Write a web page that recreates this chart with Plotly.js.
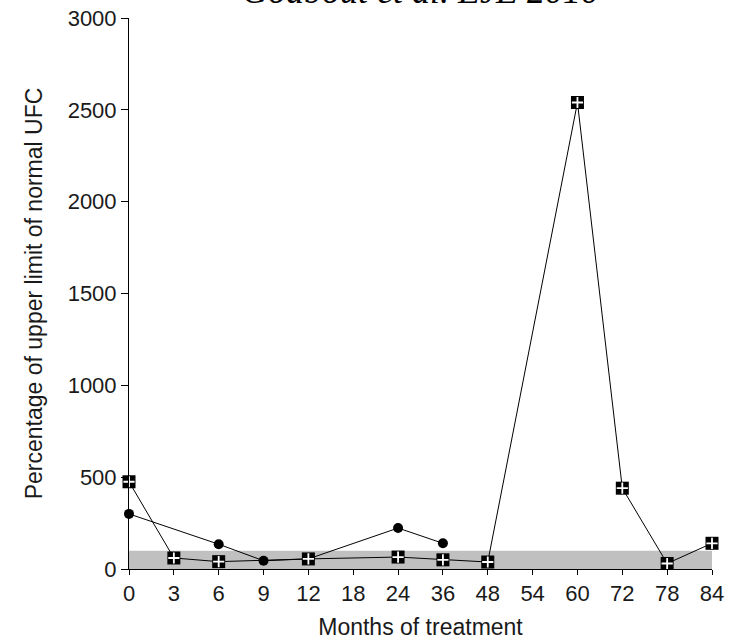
<!DOCTYPE html>
<html>
<head>
<meta charset="utf-8">
<script src="https://cdn.plot.ly/plotly-3.0.1.min.js"></script>
<style>html,body{margin:0;padding:0;background:#fff;}#chart{width:740px;height:641px;}</style>
</head>
<body>
<div id="chart"></div>
<script>
// Month labels (equally spaced categories on the x axis)
const months = ["0","3","6","9","12","18","24","36","48","54","60","72","78","84"];
// Patient A (squares with plus), % of ULN UFC; null = no measurement
const seriesSquare = [475, 60, 40, null, 55, null, 65, 50, 38, null, 2540, 440, 30, 140];
// Patient B (filled circles)
const seriesCircle = [300, null, 135, 45, 55, null, 223, 140, null, null, null, null, null, null];
// Normal range band (0 - 100 % ULN)
const normalBand = [0, 100];
const yTicks = [0, 500, 1000, 1500, 2000, 2500, 3000];

const xIdx = months.map((m, i) => i);
const txt = '#1a1a1a';
const tickFont = {family: 'Liberation Sans, Arial, sans-serif', size: 22, color: txt};
const titleFont = {family: 'Liberation Sans, Arial, sans-serif', size: 23, color: txt};

const traces = [
  {x: xIdx, y: seriesCircle, type: 'scatter', mode: 'lines+markers', connectgaps: true,
   line: {color: '#000', width: 1}, marker: {symbol: 'circle', size: 10, color: '#000'},
   cliponaxis: false, hoverinfo: 'skip'},
  {x: xIdx, y: seriesSquare, type: 'scatter', mode: 'lines+markers', connectgaps: true,
   line: {color: '#000', width: 1}, marker: {symbol: 'square', size: 13, color: '#000'},
   cliponaxis: false, hoverinfo: 'skip'},
  {x: xIdx, y: seriesSquare, type: 'scatter', mode: 'markers',
   marker: {symbol: 'cross-thin-open', size: 8, color: '#fff', line: {color: '#fff', width: 1.8}},
   cliponaxis: false, hoverinfo: 'skip'}
];

const layout = {
  width: 740, height: 641,
  paper_bgcolor: '#fff', plot_bgcolor: '#fff',
  margin: {l: 129, r: 28, t: 18, b: 72},
  showlegend: false,
  font: tickFont,
  xaxis: {
    range: [0, months.length - 1], tickmode: 'array', tickvals: xIdx, ticktext: months,
    showgrid: false, zeroline: false, showline: true, linecolor: '#000', linewidth: 1,
    ticks: 'outside', ticklen: 5, tickcolor: '#000', tickfont: tickFont,
    title: {text: 'Months of treatment', font: titleFont, standoff: 13}
  },
  yaxis: {
    range: [0, 3000], tickmode: 'array', tickvals: yTicks,
    showgrid: false, zeroline: false, showline: true, linecolor: '#000', linewidth: 1,
    ticks: 'outside', ticklen: 7, tickcolor: '#000', tickfont: tickFont,
    title: {text: 'Percentage of upper limit of normal UFC', font: titleFont, standoff: 18}
  },
  shapes: [{type: 'rect', xref: 'x', yref: 'y', x0: 0, x1: months.length - 1,
            y0: normalBand[0], y1: normalBand[1], fillcolor: '#c0c0c0', line: {width: 0}, layer: 'below'}],
  annotations: [{text: 'Godbout et al. EJE 2010', xref: 'paper', yref: 'paper', x: 0.5, y: 1.009,
                 xanchor: 'center', yanchor: 'bottom', showarrow: false,
                 font: {family: 'Liberation Serif, Times New Roman, serif', size: 36, color: '#000', style: 'italic'}}]
};

Plotly.newPlot('chart', traces, layout, {displayModeBar: false, staticPlot: true});
</script>
</body>
</html>
